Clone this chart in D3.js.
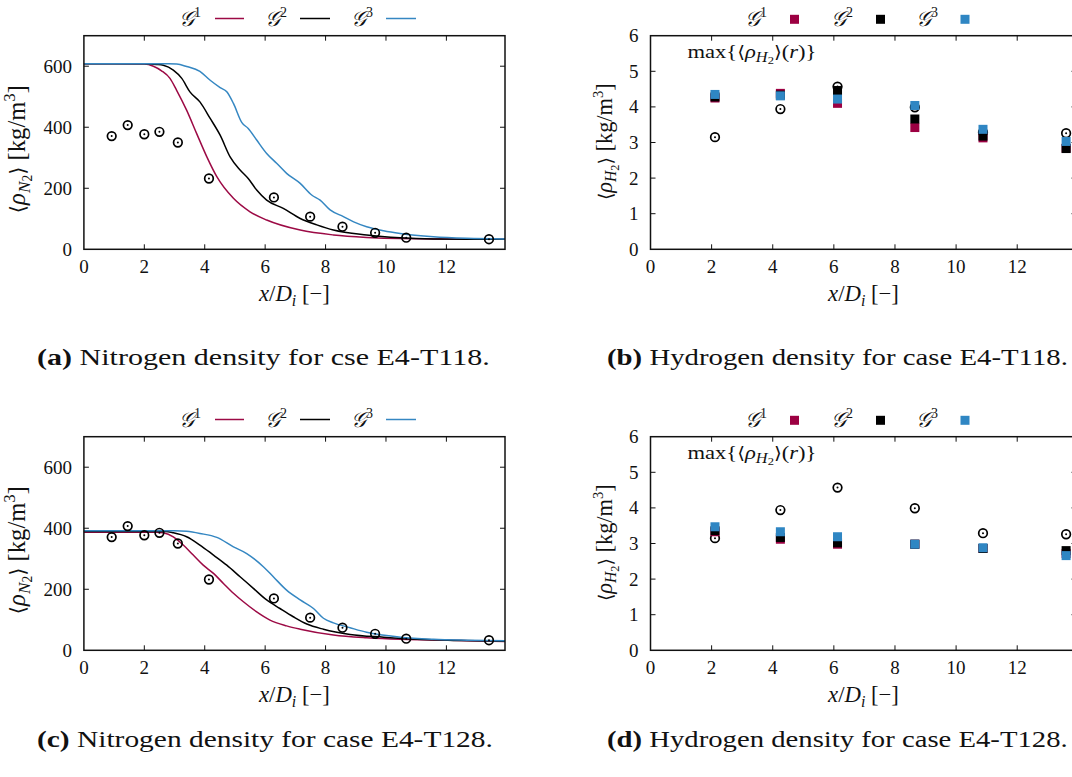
<!DOCTYPE html>
<html><head><meta charset="utf-8">
<script src="https://cdn.jsdelivr.net/npm/d3@7"></script>
<style>
body{margin:0;background:#fff;}
svg{display:block;}
text{font-family:"Liberation Serif","DejaVu Serif",serif;fill:#111;}
</style></head>
<body>
<svg id="chart" width="1072" height="777"></svg>
<script>
// ---------- DATA ----------
const seriesNames = ["G1","G2","G3"];
const xTicks = [0,2,4,6,8,10,12];
const n2Ticks = [0,200,400,600];
const h2Ticks = [0,1,2,3,4,5,6];

// Experimental N2 density (same in both cases)
const expN2X = [0.92,1.45,2.0,2.5,3.11,4.14,6.29,7.49,8.56,9.64,10.67,13.41];
const expN2Y = [371,407,377,385,350,232,170,107,74,54,38,33];

// Case E4-T118, N2 density curves
const t118G1X = [0,1.0,2.0,2.3,2.57,2.85,3.07,3.4,3.73,4.07,4.4,4.95,5.5,6.05,7.16,8.26,9.36,10.47,11.6,12.7,13.94];
const t118G1Y = [608,608,607,600,585,560,521,456,380,303,238,167,123,96,63,47,39,35,34,33,33];
const t118G2X = [0,1.0,2.0,2.4,2.63,2.96,3.24,3.51,3.84,4.18,4.51,4.84,5.17,5.44,5.72,6.05,6.6,7.16,7.71,8.26,9.36,10.47,11.57,12.7,13.94];
const t118G2Y = [608,608,608,606,603,587,560,516,483,429,374,303,260,232,194,161,134,101,80,63,47,38,34,33,33];
const t118G3X = [0,1.0,2.0,2.8,3.07,3.4,3.84,4.18,4.51,4.73,4.95,5.23,5.44,5.72,6.05,6.38,6.71,7.16,7.54,7.82,8.15,8.59,8.93,9.36,9.92,10.47,11.57,12.67,13.94];
const t118G3Y = [608,608,608,608,607,599,583,554,530,516,478,415,396,358,314,282,249,216,178,161,129,107,90,74,61,52,41,36,34];

// Case E4-T128, N2 density curves
const t128G1X = [0,1.0,2.0,2.4,2.63,2.96,3.29,3.62,3.95,4.29,4.62,4.95,5.28,5.72,6.16,6.71,7.16,8.26,9.36,10.47,11.57,12.7,13.94];
const t128G1Y = [387,387,387,387,385,372,345,312,279,252,219,187,159,126,99,80,69,50,41,36,34,31,29];
const t128G2X = [0,1.0,2.0,2.7,2.96,3.4,3.84,4.29,4.73,5.17,5.61,6.05,6.49,6.93,7.38,7.93,8.81,9.92,11.02,12.5,13.94];
const t128G2Y = [389,389,389,389,385,372,345,312,279,241,203,165,137,110,86,69,52,43,36,32,30];
const t128G3X = [0,1.0,2.0,3.0,3.4,3.84,4.4,4.95,5.39,5.94,6.27,6.71,7.16,7.6,7.93,8.26,8.81,9.36,10.47,11.57,12.7,13.94];
const t128G3Y = [392,392,392,392,390,383,370,339,317,274,241,197,165,137,105,90,74,59,43,36,33,31];

// H2 maximum density stations
const h2X = [2.11,4.25,6.12,8.65,10.88,13.6];
const expH2Y = [3.15,3.94,4.57,3.99,3.29,3.26];
// Case E4-T118
const t118H2G1 = [4.25,4.38,4.10,3.42,3.13,2.84];
const t118H2G2 = [4.28,4.33,4.46,3.66,3.18,2.83];
const t118H2G3 = [4.35,4.31,4.22,4.04,3.37,3.03];
// Case E4-T128
const t128H2G1 = [3.33,3.12,2.98,2.98,2.86,2.72];
const t128H2G2 = [3.36,3.17,3.02,2.98,2.86,2.80];
const t128H2G3 = [3.47,3.33,3.19,2.98,2.88,2.66];

const captions = [
  ["(a)"," Nitrogen density for cse E4-T118."],
  ["(b)"," Hydrogen density for case E4-T118."],
  ["(c)"," Nitrogen density for case E4-T128."],
  ["(d)"," Hydrogen density for case E4-T128."]
];
const colors = {G1:"#9c0a45", G2:"#000000", G3:"#3587c2"};
const sq = {G1:"#9c0042", G2:"#000000", G3:"#2f86c3"};

// ---------- DRAWING ----------
const svg = d3.select("#chart");
const zip = (xs, ys) => xs.map((x,i)=>[x,ys[i]]);

// scale a text group so its width matches target; ky optional vertical scale
function fit(inner, targetW, ky){
  const bb = inner.node().getBBox();
  const k = targetW / bb.width;
  inner.attr("transform", `scale(${k},${ky===undefined?k:ky})`);
}

function frame(g, x, y, yTickVals, W, H){
  g.append("rect").attr("x",0).attr("y",0).attr("width",W).attr("height",H)
    .attr("fill","none").attr("stroke","#111").attr("stroke-width",1.5);
  const tl = 5;
  const tk = g.append("g").attr("stroke","#111").attr("stroke-width",1);
  xTicks.forEach(v=>{
    if(v===0) return;
    tk.append("line").attr("x1",x(v)).attr("x2",x(v)).attr("y1",H).attr("y2",H-tl);
    tk.append("line").attr("x1",x(v)).attr("x2",x(v)).attr("y1",0).attr("y2",tl);
  });
  yTickVals.forEach(v=>{
    if(v===0 || y(v)<=0.5) return;
    tk.append("line").attr("x1",0).attr("x2",tl).attr("y1",y(v)).attr("y2",y(v));
    tk.append("line").attr("x1",W).attr("x2",W-tl).attr("y1",y(v)).attr("y2",y(v));
  });
  xTicks.forEach(v=>{
    g.append("text").attr("x",x(v)).attr("y",H+24).attr("text-anchor","middle")
      .attr("font-size",19).text(v);
  });
  yTickVals.forEach(v=>{
    g.append("text").attr("x",-12).attr("y",y(v)).attr("dy","0.34em").attr("text-anchor","end")
      .attr("font-size",19).text(v);
  });
  // x title
  const wr = g.append("g").attr("transform",`translate(${W/2},${H+52})`);
  const inner = wr.append("g");
  const t = inner.append("text").attr("text-anchor","middle").attr("font-size",20);
  t.append("tspan").attr("font-style","italic").text("x");
  t.append("tspan").text("/");
  t.append("tspan").attr("font-style","italic").text("D");
  t.append("tspan").attr("font-style","italic").attr("font-size",14).attr("dy",4).text("i");
  t.append("tspan").attr("dy",-4).text(" [−]");
  fit(inner, 72);
}

function yTitle(cx, cy, sub, len){
  const wr = svg.append("g").attr("transform",`translate(${cx},${cy}) rotate(-90)`);
  const inner = wr.append("g");
  const t = inner.append("text").attr("text-anchor","middle").attr("font-size",20);
  t.append("tspan").attr("font-family","DejaVu Serif").attr("font-size",17).text("⟨");
  t.append("tspan").attr("font-style","italic").text("ρ");
  t.append("tspan").attr("font-style","italic").attr("font-size",14).attr("dy",4).text(sub);
  t.append("tspan").attr("font-size",11).attr("dy",2).text("2");
  t.append("tspan").attr("dy",-6).attr("font-family","DejaVu Serif").attr("font-size",17).text("⟩");
  t.append("tspan").text(" [kg/m");
  t.append("tspan").attr("font-size",13).attr("dy",-8).text("3");
  t.append("tspan").attr("dy",8).text("]");
  fit(inner, len);
}

function gLabel(g, xRight, yBase, n){
  const t = g.append("text").attr("x",xRight).attr("y",yBase).attr("text-anchor","end").attr("font-size",21);
  t.append("tspan").attr("font-family","DejaVu Serif").attr("font-style","italic").text("𝒢");
  t.append("tspan").attr("font-size",14).attr("dy",-9).text(n);
}

function expMarker(g, px, py){
  g.append("circle").attr("cx",px).attr("cy",py).attr("r",4.3)
    .attr("fill","none").attr("stroke","#000").attr("stroke-width",1.7);
  g.append("circle").attr("cx",px).attr("cy",py).attr("r",1).attr("fill","#000");
}

function n2Panel(ox, oy, curves, legendY){
  const W = 421.1, H = 213.6;
  const g = svg.append("g").attr("transform",`translate(${ox},${oy})`);
  const x = d3.scaleLinear().domain([0,13.94]).range([0,W]);
  const y = d3.scaleLinear().domain([0,700]).range([H,0]);
  const line = d3.line().x(d=>x(d[0])).y(d=>y(d[1])).curve(d3.curveMonotoneX);
  const cg = g.append("g");
  seriesNames.forEach((s,i)=>{
    cg.append("path").datum(curves[i]).attr("d",line).attr("fill","none")
      .attr("stroke",colors[s]).attr("stroke-width",1.5);
  });
  zip(expN2X, expN2Y).forEach(d=>expMarker(g, x(d[0]), y(d[1])));
  frame(g, x, y, n2Ticks, W, H);
  yTitle(25, oy+113.5, "N", 128);
  // legend
  const lg = svg.append("g");
  const textR = [201, 287, 373], lx = [[215,244],[300,330],[386,416]];
  seriesNames.forEach((s,i)=>{
    gLabel(lg, textR[i], legendY+7, i+1);
    lg.append("line").attr("x1",lx[i][0]).attr("x2",lx[i][1]).attr("y1",legendY).attr("y2",legendY)
      .attr("stroke",colors[s]).attr("stroke-width",1.5);
  });
}

function h2Panel(ox, oy, vals, legendY){
  const W = 426, H = 213.6;
  const g = svg.append("g").attr("transform",`translate(${ox},${oy})`);
  const x = d3.scaleLinear().domain([0,13.94]).range([0,W]);
  const y = d3.scaleLinear().domain([0,6]).range([H,0]);
  zip(h2X, expH2Y).forEach(d=>expMarker(g, x(d[0]), y(d[1])));
  const s = 9;
  seriesNames.forEach((nm,i)=>{
    g.append("g").selectAll("rect").data(zip(h2X, vals[i])).join("rect")
      .attr("x",d=>x(d[0])-s/2).attr("y",d=>y(d[1])-s/2).attr("width",s).attr("height",s)
      .attr("fill",sq[nm]);
  });
  frame(g, x, y, h2Ticks, W, H);
  yTitle(612, oy+106, "H", 117);
  const wr = g.append("g").attr("transform","translate(37,22)");
  const inner = wr.append("g");
  const a = inner.append("text").attr("font-size",18);
  a.append("tspan").text("max{");
  a.append("tspan").attr("font-family","DejaVu Serif").attr("font-size",16).text("⟨");
  a.append("tspan").attr("font-style","italic").text("ρ");
  a.append("tspan").attr("font-style","italic").attr("font-size",13).attr("dy",4).text("H");
  a.append("tspan").attr("font-size",10).attr("dy",2).text("2");
  a.append("tspan").attr("dy",-6).attr("font-family","DejaVu Serif").attr("font-size",16).text("⟩");
  a.append("tspan").text("(");
  a.append("tspan").attr("font-style","italic").text("r");
  a.append("tspan").text(")}");
  fit(inner, 129, 1.05);
  const lg = svg.append("g");
  const textR = [767, 853, 938], cx = [794.5, 880.5, 965];
  seriesNames.forEach((nm,i)=>{
    gLabel(lg, textR[i], legendY+7, i+1);
    lg.append("rect").attr("x",cx[i]-4.5).attr("y",legendY-4.5).attr("width",9).attr("height",9).attr("fill",sq[nm]);
  });
}

function caption(xL, yB, c, len){
  const wr = svg.append("g").attr("transform",`translate(${xL},${yB})`);
  const inner = wr.append("g");
  const t = inner.append("text").attr("font-size",21);
  t.append("tspan").attr("font-weight","bold").text(c[0]);
  t.append("tspan").text(c[1]);
  fit(inner, len, 1.08);
}

n2Panel(83.9, 35.7, [zip(t118G1X,t118G1Y), zip(t118G2X,t118G2Y), zip(t118G3X,t118G3Y)], 18.5);
h2Panel(650.5, 35.7, [t118H2G1, t118H2G2, t118H2G3], 19.3);
n2Panel(83.9, 436.7, [zip(t128G1X,t128G1Y), zip(t128G2X,t128G2Y), zip(t128G3X,t128G3Y)], 419.5);
h2Panel(650.5, 436.7, [t128H2G1, t128H2G2, t128H2G3], 420.3);

caption(37, 365, captions[0], 453);
caption(607, 365, captions[1], 461);
caption(37, 747, captions[2], 456);
caption(607, 747, captions[3], 461);
</script>
</body></html>
